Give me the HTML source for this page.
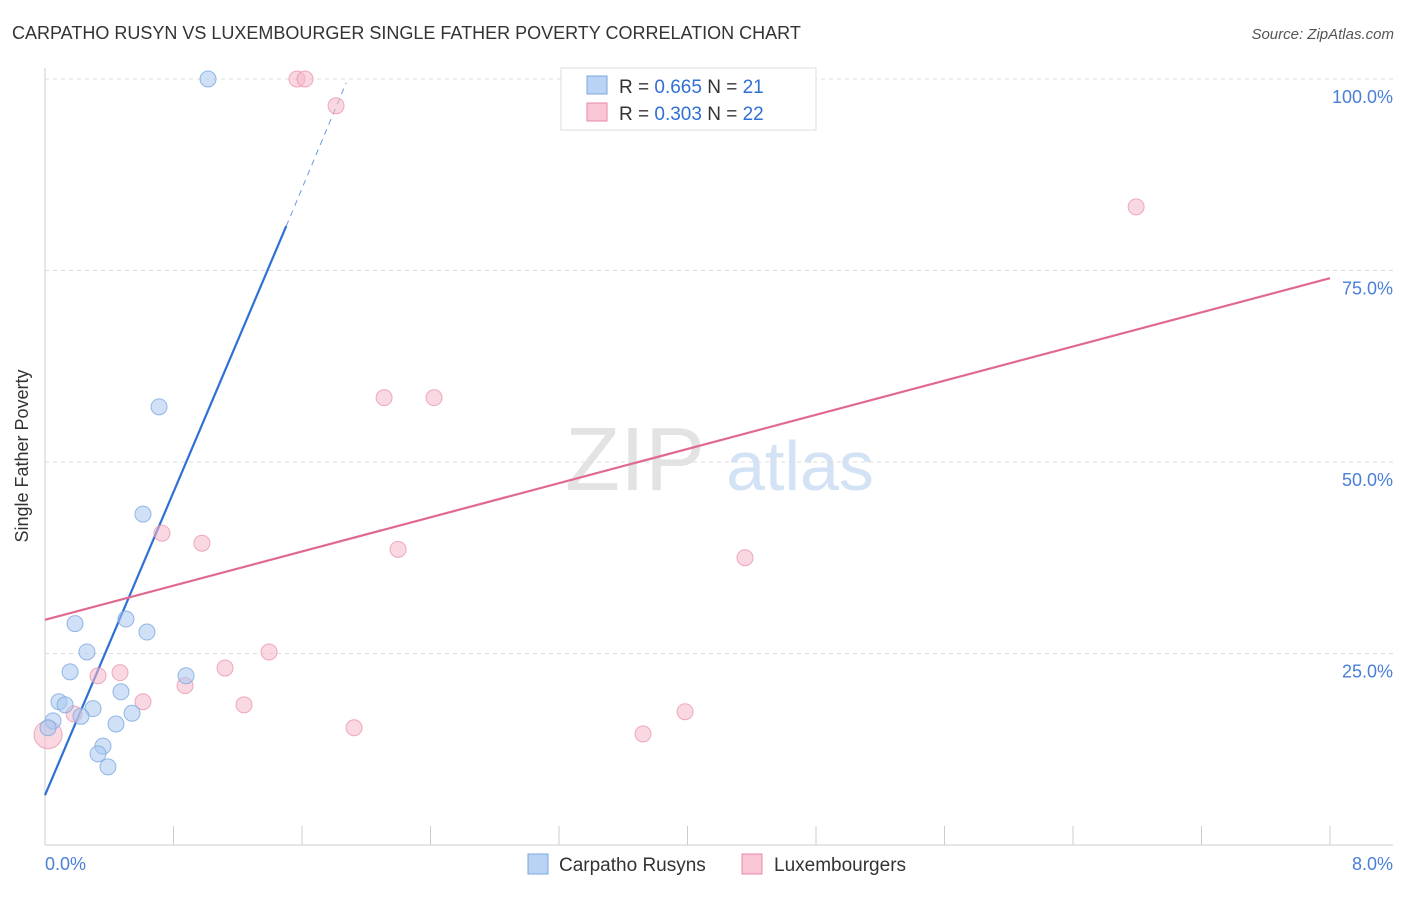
<!DOCTYPE html>
<html><head><meta charset="utf-8"><style>
body{margin:0;background:#fff;font-family:"Liberation Sans",sans-serif;}
svg text{font-family:"Liberation Sans",sans-serif;}
</style></head><body>
<svg id="chart" width="1406" height="892">
<text x="12" y="39" font-size="18" fill="#333">CARPATHO RUSYN VS LUXEMBOURGER SINGLE FATHER POVERTY CORRELATION CHART</text>
<text x="1394" y="39" font-size="15" fill="#555" font-style="italic" text-anchor="end">Source: ZipAtlas.com</text>
<text x="28" y="456" font-size="18" fill="#333" text-anchor="middle" transform="rotate(-90 28 456)">Single Father Poverty</text>
<g>
<text x="635" y="490" font-size="90" fill="#ddd" font-family="Liberation Serif" text-anchor="middle" opacity="0.8">ZIP</text>
<text x="800" y="490" font-size="70" fill="#c9dbf3" text-anchor="middle" opacity="0.8">atlas</text>
</g>
<g id="grid"></g><g id="axes"></g><g id="lines"></g><g id="points"></g>
<g>
<rect x="561" y="68" width="255" height="62" fill="#fff" stroke="#ddd"/>
<rect x="587" y="76" width="20" height="18" fill="#b9d3f4" stroke="#7aa7e0"/>
<rect x="587" y="103" width="20" height="18" fill="#f8c6d4" stroke="#e88aa6"/>
<text x="619" y="93" font-size="19" fill="#333">R = <tspan fill="#2f6fd6">0.665</tspan>   N = <tspan fill="#2f6fd6">21</tspan></text>
<text x="619" y="120" font-size="19" fill="#333">R = <tspan fill="#2f6fd6">0.303</tspan>   N = <tspan fill="#2f6fd6">22</tspan></text>
</g>
<g>
<rect x="528" y="854" width="20" height="20" fill="#b9d3f4" stroke="#7aa7e0"/>
<text x="559" y="871" font-size="19" fill="#333">Carpatho Rusyns</text>
<rect x="742" y="854" width="20" height="20" fill="#f8c6d4" stroke="#e88aa6"/>
<text x="774" y="871" font-size="19" fill="#333">Luxembourgers</text>
</g>
</svg>
<script>
const blueX=[1.015,0.710,0.610,0.504,0.635,0.187,0.261,0.156,0.878,0.473,0.087,0.125,0.299,0.224,0.542,0.442,0.050,0.019,0.361,0.330,0.392];
const blueY=[100,57.2,43.2,29.5,27.8,28.9,25.2,22.6,22.1,20.0,18.7,18.3,17.8,16.8,17.2,15.8,16.2,15.3,12.9,11.9,10.2];
const pinkX=[1.569,1.619,1.812,6.793,2.111,2.422,0.728,0.977,2.198,4.358,1.395,1.121,0.467,0.330,0.872,0.610,1.239,0.181,3.985,1.924,3.723,0.019];
const pinkY=[100,100,96.5,83.3,58.4,58.4,40.7,39.4,38.6,37.5,25.2,23.1,22.5,22.1,20.8,18.7,18.3,17.1,17.4,15.3,14.5,14.4];
const yTicks=[25,50,75,100];
const yTickLabels=["25.0%","50.0%","75.0%","100.0%"];
const xTickLabels=["0.0%","8.0%"];
const blueLine=[6.5,80.8,99.5]; // y at x=0, 1.502, 1.875
const blueLineX=[0,1.502,1.875];
const pinkLine=[29.4,74.0];
const pinkLineX=[0,8];
const NS="http://www.w3.org/2000/svg";
const sx=v=>45+v/8*1285, sy=v=>845-v*7.66;
function mk(t,a,p){const e=document.createElementNS(NS,t);for(const k in a)e.setAttribute(k,a[k]);p.appendChild(e);return e;}
const grid=document.getElementById('grid'),axes=document.getElementById('axes');
yTicks.forEach((t,i)=>{
 const l=mk('line',{x1:45,x2:1393,y1:sy(t),y2:sy(t),stroke:'#ddd','stroke-dasharray':'4,4'},grid);
 
 
 const tx=mk('text',{x:1393,y:sy(t)+24,'font-size':18,fill:'#4a7fd8','text-anchor':'end'},axes);
 tx.textContent=yTickLabels[i];
 
 
});
const ax=mk('line',{x1:45,x2:1393,y1:845,y2:845,stroke:'#ccc'},axes);


const ay=mk('line',{x1:45,x2:45,y1:68,y2:845,stroke:'#ccc'},axes);


for(let i=0;i<=10;i++){const t=mk('line',{x1:sx(i*0.8),x2:sx(i*0.8),y1:826,y2:845,stroke:'#ccc'},axes);
 
 }
const xl0=mk('text',{x:45,y:870,'font-size':18,fill:'#4a7fd8'},axes);xl0.textContent=xTickLabels[0];


const xl1=mk('text',{x:1393,y:870,'font-size':18,fill:'#4a7fd8','text-anchor':'end'},axes);xl1.textContent=xTickLabels[1];


const pts=document.getElementById('points');
pinkX.forEach((x,i)=>{const c=mk('circle',{cx:sx(x),cy:sy(pinkY[i]),r:i==21?14:8,fill:'#f5b8c9','fill-opacity':0.55,stroke:'#e88aa6','stroke-opacity':0.7},pts);
 
 });
blueX.forEach((x,i)=>{const c=mk('circle',{cx:sx(x),cy:sy(blueY[i]),r:8,fill:'#a9c8f0','fill-opacity':0.55,stroke:'#7aa7e0','stroke-opacity':0.8},pts);
 
 });
const lines=document.getElementById('lines');
const b1=mk('line',{x1:sx(blueLineX[0]),y1:sy(blueLine[0]),x2:sx(blueLineX[1]),y2:sy(blueLine[1]),stroke:'#2f6fd6','stroke-width':2.2},lines);


const b2=mk('line',{x1:sx(blueLineX[1]),y1:sy(blueLine[1]),x2:sx(blueLineX[2]),y2:sy(blueLine[2]),stroke:'#2f6fd6','stroke-width':1,'stroke-dasharray':'6,5','stroke-opacity':0.7},lines);


const p1=mk('line',{x1:sx(pinkLineX[0]),y1:sy(pinkLine[0]),x2:sx(pinkLineX[1]),y2:sy(pinkLine[1]),stroke:'#e0698f','stroke-width':2.2},lines);


</script>
</body></html>
